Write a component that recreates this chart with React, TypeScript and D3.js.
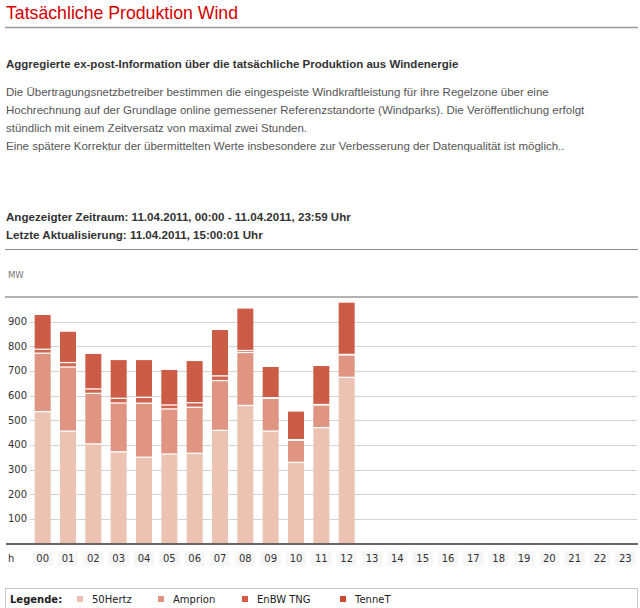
import React from "react";
import * as d3 from "d3";

const hours = ["00","01","02","03","04","05","06","07","08","09","10","11","12","13","14","15","16","17","18","19","20","21","22","23"];
const seriesNames = ["50Hertz", "Amprion", "EnBW TNG", "TenneT"];
const seriesColors = ["#ecc3b3", "#df9582", "#d2654f", "#cd5c46"];
const legendColors = ["#f0c0b4", "#e29080", "#d65a46", "#cc4a34"];
const dataHours = ["00","01","02","03","04","05","06","07","08","09","10","11","12"];
const hertz50 = [535, 456, 404, 372, 350, 363, 366, 459, 560, 456, 329, 470, 674];
const amprion = [237, 260, 205, 198, 219, 183, 187, 202, 215, 133, 90, 92, 91];
const enbw = [16, 18, 18, 19, 24, 16, 18, 19, 8, 2, 2, 2, 2];
const tennet = [139, 125, 142, 155, 151, 142, 169, 186, 170, 125, 114, 156, 210];
const yTicks = [100, 200, 300, 400, 500, 600, 700, 800, 900];

const title = "Tatsächliche Produktion Wind";
const heading = "Aggregierte ex-post-Information über die tatsächliche Produktion aus Windenergie";
const paragraph = [
  "Die Übertragungsnetzbetreiber bestimmen die eingespeiste Windkraftleistung für ihre Regelzone über eine",
  "Hochrechnung auf der Grundlage online gemessener Referenzstandorte (Windparks). Die Veröffentlichung erfolgt",
  "stündlich mit einem Zeitversatz von maximal zwei Stunden.",
  "Eine spätere Korrektur der übermittelten Werte insbesondere zur Verbesserung der Datenqualität ist möglich..",
];
const period = "Angezeigter Zeitraum: 11.04.2011, 00:00 - 11.04.2011, 23:59 Uhr";
const updated = "Letzte Aktualisierung: 11.04.2011, 15:00:01 Uhr";

export default function App() {
  const W = 640, H = 608;
  const arial = "'Liberation Sans', Arial, sans-serif";
  const verdana = "'DejaVu Sans', Verdana, sans-serif";

  const x = d3.scaleBand<string>().domain(hours).range([30, 638]).paddingInner(0.368).paddingOuter(0.184);
  const y = d3.scaleLinear().domain([0, 1000]).range([543.5, 297]);

  const rows = dataHours.map((h, i) => ({ h, "50Hertz": hertz50[i], Amprion: amprion[i], "EnBW TNG": enbw[i], TenneT: tennet[i] }));
  const stacked = d3.stack<any>().keys(seriesNames)(rows);

  const legendX = [77, 158, 242, 340];

  return (
    <div style={{ position: "absolute", left: 0, top: 0 }}>
      <svg width={W} height={H} style={{ display: "block", background: "#fff" }}>
        <text x={6} y={19} fill="#d40000" fontFamily={arial} fontSize={17.7}>{title}</text>
        <line x1={5} x2={638} y1={27.5} y2={27.5} stroke="#9a9a9a" strokeWidth={1.5} />

        <text x={6} y={68} fill="#333" fontFamily={arial} fontSize={11.5} fontWeight="bold">{heading}</text>
        {paragraph.map((t, i) => (
          <text key={i} x={6} y={96 + i * 18} fill="#555" fontFamily={arial} fontSize={11.5}>{t}</text>
        ))}

        <text x={6} y={221} fill="#333" fontFamily={arial} fontSize={11.6} fontWeight="bold">{period}</text>
        <text x={6} y={239} fill="#333" fontFamily={arial} fontSize={11.6} fontWeight="bold">{updated}</text>
        <line x1={5} x2={638} y1={249.5} y2={249.5} stroke="#8a8a8a" strokeWidth={1} />

        <text x={8} y={278} fill="#777" fontFamily={verdana} fontSize={8.5}>MW</text>

        {/* grid */}
        {yTicks.map((t) => (
          <g key={t}>
            <line x1={30} x2={637} y1={Math.round(y(t)) + 0.5} y2={Math.round(y(t)) + 0.5} stroke="#d4d4d4" strokeWidth={1} />
            <text x={27} y={y(t) + 3.5} textAnchor="end" fill="#333" fontFamily={verdana} fontSize={10}>{t}</text>
          </g>
        ))}
        <line x1={5} x2={638} y1={y(1000)} y2={y(1000)} stroke="#999" strokeWidth={1.5} />

        {/* bars */}
        {stacked.map((s, si) => (
          <g key={s.key} fill={seriesColors[si]}>
            {s.map((d, i) => {
              const bx = x(d.data.h)!;
              return <rect key={i} x={bx} y={y(d[1])} width={x.bandwidth()} height={Math.max(0, y(d[0]) - y(d[1]))} />;
            })}
          </g>
        ))}
        {stacked.slice(0, 3).map((s, si) => (
          <g key={"sep" + si} stroke="#fff" strokeWidth={1.3}>
            {s.map((d, i) => {
              const bx = x(d.data.h)!;
              return <line key={i} x1={bx} x2={bx + x.bandwidth()} y1={y(d[1])} y2={y(d[1])} />;
            })}
          </g>
        ))}

        <line x1={6} x2={638} y1={544} y2={544} stroke="#666" strokeWidth={2} />

        {/* x labels */}
        <text x={8} y={562} fill="#333" fontFamily={verdana} fontSize={10}>h</text>
        {hours.map((h) => (
          <g key={h}>
            <rect x={x(h)! + x.bandwidth() / 2 - 10} y={551} width={20} height={15} fill="#f6f6f6" />
            <text x={x(h)! + x.bandwidth() / 2} y={562} textAnchor="middle" fill="#333" fontFamily={verdana} fontSize={10}>{h}</text>
          </g>
        ))}

        {/* legend */}
        <rect x={5.5} y={588.5} width={632} height={30} fill="#fff" stroke="#c8c8c8" strokeWidth={1} />
        <text x={10} y={603} fill="#222" fontFamily={verdana} fontSize={10} fontWeight="bold">Legende:</text>
        {seriesNames.map((n, i) => (
          <g key={n}>
            <rect x={legendX[i]} y={596} width={6} height={6} fill={legendColors[i]} />
            <text x={legendX[i] + 15} y={603} fill="#222" fontFamily={verdana} fontSize={10}>{n}</text>
          </g>
        ))}
      </svg>
    </div>
  );
}
